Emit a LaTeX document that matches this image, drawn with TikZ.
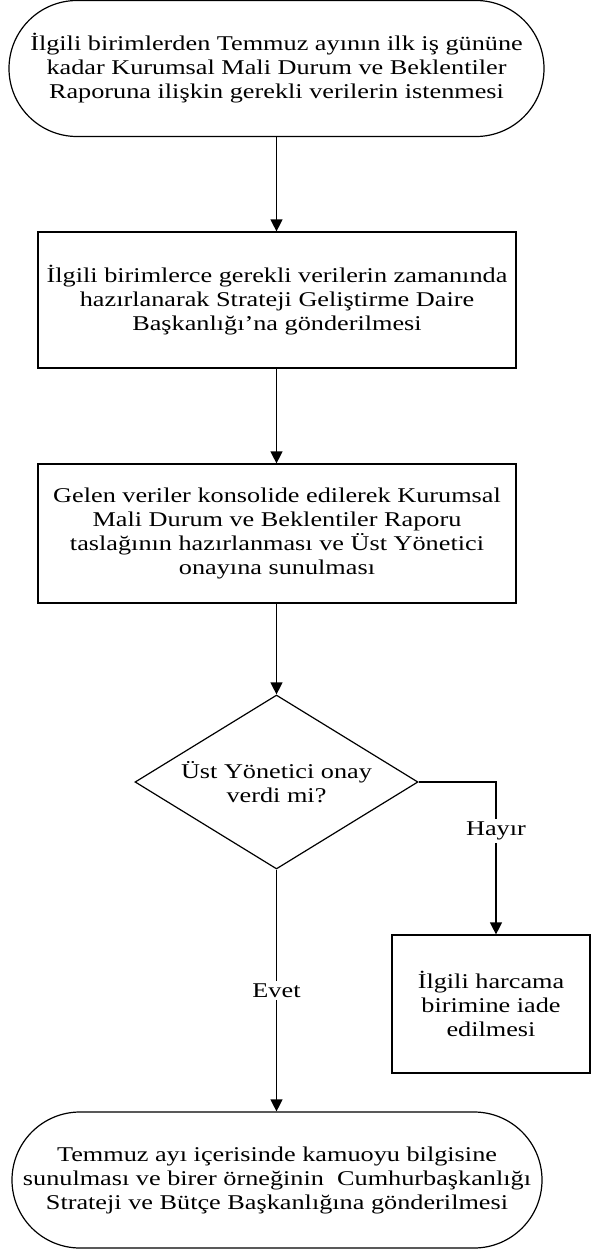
\documentclass[tikz,border=0pt]{standalone}
\usepackage{fontspec}
\setmainfont{Liberation Serif}[FakeStretch=1.25]
\usetikzlibrary{shapes.geometric,arrows.meta}

\begin{document}
\begin{tikzpicture}[x=1pt, y=-1pt, line width=1.2pt,
  font=\fontsize{21}{24}\selectfont,
  >={Triangle[length=12pt,width=12pt]},
  term/.style={draw, rectangle, rounded corners=68pt, minimum width=535pt, minimum height=136pt, inner sep=0pt, align=center},
  proc/.style={draw, rectangle, minimum width=478pt, minimum height=137pt, inner sep=0pt, align=center},
  decide/.style={draw, diamond, aspect=1.63, minimum width=283pt, minimum height=174pt, inner sep=0pt, align=center},
  lbl/.style={fill=white, inner sep=3pt}]
\useasboundingbox (0,0) rectangle (592,1252);
\node[term] (start) at (276.5,68.5) {İlgili birimlerden Temmuz ayının ilk iş gününe\\kadar Kurumsal Mali Durum ve Beklentiler\\Raporuna ilişkin gerekli verilerin istenmesi};
\node[proc, minimum height=136pt] (collect) at (277,300) {İlgili birimlerce gerekli verilerin zamanında\\hazırlanarak Strateji Geliştirme Daire\\Başkanlığı’na gönderilmesi};
\node[proc, minimum height=139pt] (draft) at (277,533.5) {Gelen veriler konsolide edilerek Kurumsal\\Mali Durum ve Beklentiler Raporu\\taslağının hazırlanması ve Üst Yönetici\\onayına sunulması};
\node[decide] (approve) at (276.5,782) {Üst Yönetici onay\\verdi mi?};
\node[proc, minimum width=198pt, minimum height=138pt] (back) at (491,1004) {İlgili harcama\\birimine iade\\edilmesi};
\node[term, minimum width=530pt] (finish) at (277,1180) {Temmuz ayı içerisinde kamuoyu bilgisine\\sunulması ve birer örneğinin \ Cumhurbaşkanlığı\\Strateji ve Bütçe Başkanlığına gönderilmesi};
\draw [->] (start.south -| approve.north) -- (collect.north -| approve.north);
\draw [->] (collect.south -| approve.north) -- (draft.north -| approve.north);
\draw [->] (draft.south -| approve.north) -- (approve.north);
\draw [->] (approve.east) -| node[lbl, pos=0.66]{Hayır} ([xshift=5pt]back.north);
\draw [->] (approve.south) -- node[lbl]{Evet} (finish.north -| approve.south);
\end{tikzpicture}
\end{document}
